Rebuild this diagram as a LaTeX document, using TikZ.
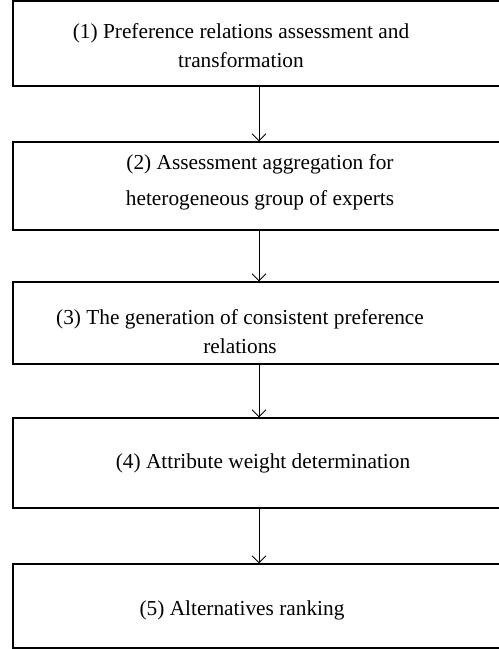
\documentclass[tikz,border=0pt]{standalone}
\usepackage{fontspec}
\setmainfont{Liberation Serif}
\usetikzlibrary{arrows.meta,calc}

\begin{document}
\begin{tikzpicture}
  [
    x=1bp, y=-1bp,
    font=\fontsize{21.4}{29}\selectfont,
    block/.style =
      {draw, line width=1.1bp, rectangle, minimum width=492bp, minimum height=#1, inner sep=0pt},
    block/.default=86bp,
    caption/.style =
      {align=center, inner sep=0pt}
  ]
  \clip (0,0) rectangle (499,649);

  \node [block=85bp] at (259, 43.5) (b1) {};
  \node [block=88bp] at (259,186)   (b2) {};
  \node [block=82bp] at (259,323)   (b3) {};
  \node [block=90bp] at (259,463)   (b4) {};
  \node [block=84bp] at (259,606)   (b5) {};

  \node [caption] at (241, 46) (c1) {(1) Preference relations assessment and\\transformation};
  \node [caption] at (260,182) (c2) {(2) Assessment aggregation for\\[7bp]heterogeneous group of experts};
  \node [caption] at (240,332) (c3) {(3) The generation of consistent preference\\relations};
  \node [caption] at (263,463) (c4) {(4) Attribute weight determination};
  \node [caption] at (242,610) (c5) {(5) Alternatives ranking};

  \draw[->, >={Straight Barb[length=7bp,width=14bp]}, line width=0.9bp] (b1.south) -- (b2.north);
  \draw[->, >={Straight Barb[length=7bp,width=14bp]}, line width=0.9bp] (b2.south) -- (b3.north);
  \draw[->, >={Straight Barb[length=7bp,width=14bp]}, line width=0.9bp] (b3.south) -- (b4.north);
  \draw[->, >={Straight Barb[length=7bp,width=14bp]}, line width=0.9bp] (b4.south) -- (b5.north);

\end{tikzpicture}
\end{document}
